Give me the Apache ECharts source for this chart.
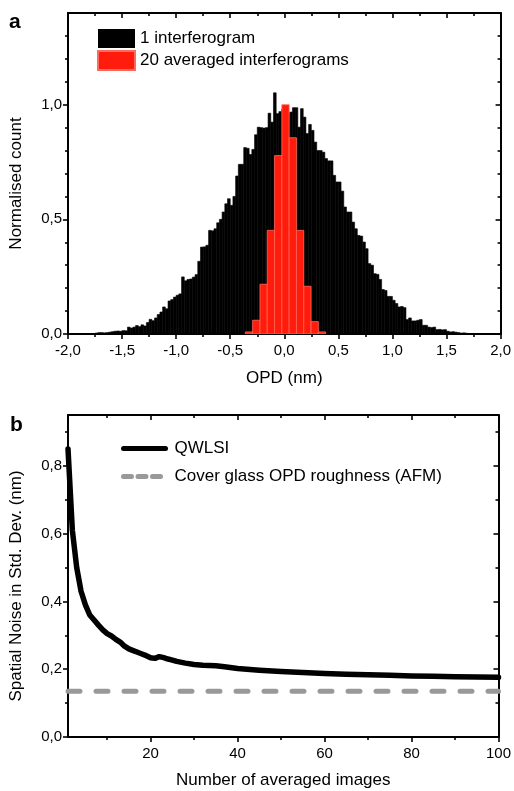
<!DOCTYPE html>
<html><head><meta charset="utf-8">
<script src="https://cdn.jsdelivr.net/npm/echarts@6/dist/echarts.min.js"></script>
<style>html,body{margin:0;padding:0;background:#fff}#c{width:514px;height:791px}</style>
</head><body><div id="c"></div>
<script>
// ---- Panel a: histograms ----
const blackStart = -1.8, blackWidth = 0.025;
const blackCounts = [
  0, 0, 0.004, 0.006, 0.006, 0.005, 0.006, 0.008,
  0.01, 0.012, 0.013, 0.012, 0.015, 0.014, 0.03, 0.026,
  0.03, 0.037, 0.032, 0.04, 0.035, 0.05, 0.064, 0.058,
  0.07, 0.085, 0.096, 0.118, 0.11, 0.144, 0.15, 0.161,
  0.169, 0.175, 0.249, 0.232, 0.238, 0.24, 0.248, 0.259,
  0.317, 0.379, 0.38, 0.387, 0.452, 0.45, 0.459, 0.485,
  0.50, 0.532, 0.568, 0.59, 0.561, 0.600, 0.689, 0.74,
  0.74, 0.813, 0.81, 0.783, 0.805, 0.869, 0.902, 0.90,
  0.898, 0.90, 0.963, 0.924, 1.052, 0.961, 0.97, 0.98,
  0.975, 0.96, 0.968, 0.987, 0.987, 0.902, 0.983, 0.946,
  0.874, 0.914, 0.888, 0.837, 0.80, 0.80, 0.793, 0.765,
  0.755, 0.755, 0.692, 0.663, 0.663, 0.623, 0.554, 0.532,
  0.532, 0.488, 0.459, 0.43, 0.427, 0.401, 0.372, 0.307,
  0.30, 0.263, 0.26, 0.238, 0.194, 0.19, 0.164, 0.164,
  0.147, 0.133, 0.118, 0.12, 0.115, 0.063, 0.07, 0.057,
  0.057, 0.06, 0.063, 0.038, 0.038, 0.03, 0.028, 0.03,
  0.019, 0.02, 0.018, 0.019, 0.012, 0.009, 0.01, 0.008,
  0.006, 0.004, 0.005, 0.003, 0.002, 0, 0, 0
];
const redStart = -0.36, redWidth = 0.0675;
const redCounts = [0.009, 0.06, 0.217, 0.452, 0.778, 1.0, 0.856, 0.452, 0.208, 0.054, 0.009];
const opdMajor = [-2, -1.5, -1, -0.5, 0, 0.5, 1, 1.5, 2];
const opdMinor = [-1.75, -1.25, -0.75, -0.25, 0.25, 0.75, 1.25, 1.75];
const countMajor = [0, 0.5, 1.0];
const countMinor = [0.1, 0.2, 0.3, 0.4, 0.6, 0.7, 0.8, 0.9, 1.1, 1.2, 1.3];

// ---- Panel b: noise vs number of averaged images ----
const nImages = [1, 2, 3, 4, 5, 6, 7, 8, 9, 10, 11, 12, 13, 14, 15, 16, 17, 18, 19, 20, 21, 22, 23, 24, 25, 26, 28, 30, 32, 35, 37, 40, 45, 50, 55, 60, 65, 70, 75, 80, 85, 90, 95, 100];
const qwlsiNoise = [0.85, 0.61, 0.50, 0.43, 0.39, 0.36, 0.345, 0.33, 0.316, 0.305, 0.298, 0.288, 0.28, 0.268, 0.26, 0.255, 0.25, 0.245, 0.24, 0.234, 0.232, 0.237, 0.234, 0.23, 0.227, 0.223, 0.218, 0.214, 0.212, 0.21, 0.207, 0.202, 0.197, 0.193, 0.19, 0.187, 0.185, 0.184, 0.182, 0.18, 0.179, 0.178, 0.177, 0.176];
const afmRoughness = 0.135;
const imgMajor = [20, 40, 60, 80, 100];
const imgMinor = [10, 30, 50, 70, 90];
const noiseMajor = [0, 0.2, 0.4, 0.6, 0.8];
const noiseMinor = [0.1, 0.3, 0.5, 0.7, 0.9];

const FONT = 'Liberation Sans, Arial, Helvetica, sans-serif';
const fmt = v => v.toFixed(1).replace('.', ',');

function axes(dim, grid, min, max, major, minor, position, mirrorPos, label, name, nameGap, namePad) {
  const base = {type: 'value', gridIndex: grid, min: min, max: max, splitLine: {show: false}};
  const main = Object.assign({}, base, {
    position: position,
    axisLine: {show: true, onZero: false, lineStyle: {color: '#000', width: 2}},
    axisTick: {show: true, inside: false, length: 5, customValues: major, lineStyle: {color: '#000', width: 1.6}},
    axisLabel: {show: true, customValues: major, formatter: label, color: '#000', fontSize: 15, fontFamily: FONT, margin: dim === 'x' ? 9 : 6},
    name: name, nameLocation: 'middle', nameGap: nameGap,
    nameTextStyle: {fontSize: 17, color: '#000', fontFamily: FONT, padding: namePad || 0}
  });
  const minorAx = Object.assign({}, base, {
    position: position,
    axisLine: {show: false, onZero: false},
    axisTick: {show: true, inside: false, length: 3, customValues: minor, lineStyle: {color: '#000', width: 1.6}},
    axisLabel: {show: false}
  });
  const mir = Object.assign({}, base, {
    position: mirrorPos,
    axisLine: {show: true, onZero: false, lineStyle: {color: '#000', width: 2}},
    axisTick: {show: true, inside: true, length: 5, customValues: major, lineStyle: {color: '#000', width: 1.6}},
    axisLabel: {show: false}
  });
  const mirMinor = Object.assign({}, base, {
    position: mirrorPos,
    axisLine: {show: false, onZero: false},
    axisTick: {show: true, inside: true, length: 3, customValues: minor, lineStyle: {color: '#000', width: 1.6}},
    axisLabel: {show: false}
  });
  return [main, minorAx, mir, mirMinor];
}

const xAxes = [].concat(
  axes('x', 0, -2, 2, opdMajor, opdMinor, 'bottom', 'top', fmt, 'OPD (nm)', 36),
  axes('x', 1, 1, 100, imgMajor, imgMinor, 'bottom', 'top', v => String(Math.round(v)), 'Number of averaged images', 35)
);
const yAxes = [].concat(
  axes('y', 0, 0, 1.4, countMajor, countMinor, 'left', 'right', fmt, 'Normalised count', 43, [0, 20, 0, 0]),
  axes('y', 1, 0, 0.95, noiseMajor, noiseMinor, 'left', 'right', fmt, 'Spatial Noise in Std. Dev. (nm)', 43, [0, 20, 0, 0])
);

function histRender(strokeColor, lw) {
  return function (params, api) {
    const x0 = api.value(0), x1 = api.value(1), h = api.value(2);
    const p0 = api.coord([x0, h]);
    const p1 = api.coord([x1, 0]);
    return {
      type: 'rect',
      shape: {x: p0[0], y: p0[1], width: p1[0] - p0[0], height: p1[1] - p0[1]},
      style: {fill: api.visual('color'), stroke: strokeColor, lineWidth: lw}
    };
  };
}

const blackData = blackCounts.map((h, i) => [blackStart + i * blackWidth, blackStart + (i + 1) * blackWidth, h]);
const redData = redCounts.map((h, i) => [redStart + i * redWidth, redStart + (i + 1) * redWidth, h]);
const qwlsiData = nImages.map((n, i) => [n, qwlsiNoise[i]]);

const hiddenSymbol = {color: 'rgba(0,0,0,0)', borderColor: 'rgba(0,0,0,0)', borderWidth: 0, opacity: 0};

const chart = echarts.init(document.getElementById('c'), null, {renderer: 'canvas'});
chart.setOption({
  animation: false,
  backgroundColor: '#fff',
  textStyle: {fontFamily: FONT},
  title: [
    {text: 'a', left: 9, top: 12, padding: 0, textStyle: {fontSize: 21, fontWeight: 'bold', color: '#000', fontFamily: FONT}},
    {text: 'b', left: 10, top: 415, padding: 0, textStyle: {fontSize: 21, fontWeight: 'bold', color: '#000', fontFamily: FONT}}
  ],
  grid: [
    {left: 68, top: 13, width: 435, height: 321},
    {left: 68, top: 415, width: 435, height: 322}
  ],
  xAxis: xAxes,
  yAxis: yAxes,
  legend: [
    {
      orient: 'vertical', left: 97, top: 29, padding: 0, itemGap: 2, itemWidth: 37, itemHeight: 19,
      selectedMode: false, icon: 'rect',
      textStyle: {fontSize: 17, color: '#000', fontFamily: FONT},
      data: ['1 interferogram', '20 averaged interferograms']
    },
    {
      orient: 'vertical', left: 121, top: 440, padding: 0, itemGap: 11, itemWidth: 42, itemHeight: 19,
      selectedMode: false,
      textStyle: {fontSize: 17, color: '#000', fontFamily: FONT, padding: [0, 0, 0, 4]},
      data: [
        {name: 'QWLSI', itemStyle: hiddenSymbol, lineStyle: {color: '#000', width: 5, cap: 'round'}},
        {name: 'Cover glass OPD roughness (AFM)', itemStyle: hiddenSymbol, lineStyle: {color: '#999', width: 5, cap: 'round', type: [8, 6.5]}}
      ]
    }
  ],
  series: [
    {
      name: '1 interferogram', type: 'custom', xAxisIndex: 0, yAxisIndex: 0,
      renderItem: histRender('#000', 0.6), itemStyle: {color: '#000'},
      encode: {x: [0, 1], y: 2}, data: blackData, clip: true
    },
    {
      name: '20 averaged interferograms', type: 'custom', xAxisIndex: 0, yAxisIndex: 0,
      renderItem: histRender('#ff6a5c', 0.8), itemStyle: {color: '#ff1c0c', borderColor: '#ff6a5c', borderWidth: 1},
      encode: {x: [0, 1], y: 2}, data: redData, clip: true
    },
    {
      name: 'QWLSI', type: 'line', xAxisIndex: 4, yAxisIndex: 4,
      data: qwlsiData, showSymbol: false, symbol: 'none', smooth: false, clip: true,
      lineStyle: {color: '#000', width: 5.5, cap: 'round', join: 'round'}, itemStyle: {color: '#000'}, z: 3
    },
    {
      name: 'Cover glass OPD roughness (AFM)', type: 'line', xAxisIndex: 4, yAxisIndex: 4,
      data: [[1, afmRoughness], [100, afmRoughness]], showSymbol: false, symbol: 'none', clip: true,
      lineStyle: {color: '#999', width: 5, type: [12, 16], cap: 'round'}, itemStyle: {color: '#999'}, z: 2
    }
  ]
});
</script>
</body></html>
